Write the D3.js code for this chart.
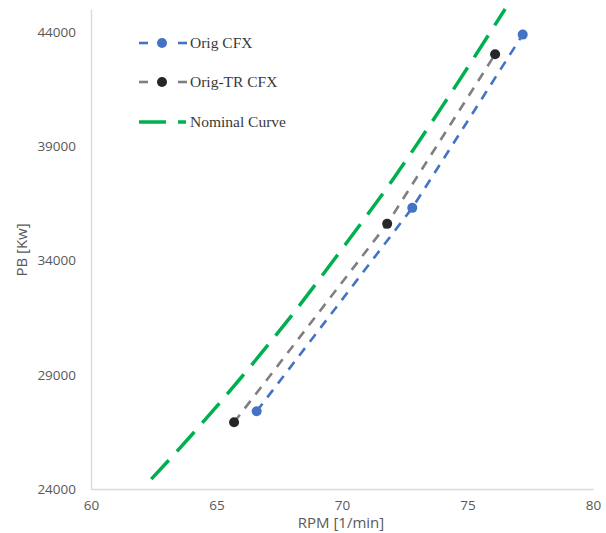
<!DOCTYPE html>
<html>
<head>
<meta charset="utf-8">
<script src="https://cdn.jsdelivr.net/npm/d3@7/dist/d3.min.js"></script>
<style>
  html, body { margin: 0; padding: 0; background: #fff; }
  svg { display: block; }
</style>
</head>
<body>
<svg id="chart" width="606" height="533"></svg>
<script>
// RPM vs brake power for the CFX runs and the nominal propeller curve
const origRpm = [66.6, 72.8, 77.2];
const origPb = [27400, 36300, 43880];

const origTrRpm = [65.7, 71.8, 76.1];
const origTrPb = [26920, 35600, 43020];

const nominalRpm = [62.4, 64, 66, 68, 70, 72, 74, 76.5];
const nominalPb = [24430, 26350, 28900, 31600, 34500, 37500, 40750, 45000];

const xTicks = [60, 65, 70, 75, 80];
const yTicks = [24000, 29000, 34000, 39000, 44000];

const seriesNames = ["Orig CFX", "Orig-TR CFX", "Nominal Curve"];

const svg = d3.select("#chart");
const x = d3.scaleLinear().domain([60, 80]).range([91, 593]);
const y = d3.scaleLinear().domain([24000, 45000]).range([489, 9]);

const axisColor = "#d9d9d9";
const textColor = "#595959";
const sans = "'Open Sans', 'Liberation Sans', sans-serif";

// axes: plain lines with labels, no tick marks
const xAxis = d3.axisBottom(x).tickValues(xTicks).tickSize(0).tickPadding(11).tickFormat(d3.format("d"));
const yAxis = d3.axisLeft(y).tickValues(yTicks).tickSize(0).tickPadding(15).tickFormat(d3.format("d"));

const gx = svg.append("g").attr("transform", `translate(0,${y(24000)})`).call(xAxis);
const gy = svg.append("g").attr("transform", `translate(${x(60)},0)`).call(yAxis);

[gx, gy].forEach(g => {
  g.select(".domain").attr("stroke", axisColor).attr("stroke-width", 1.3);
  g.selectAll("text").attr("fill", textColor).style("font-family", sans).style("font-size", "13.5px");
});
gx.selectAll("text").attr("dy", "0.71em");

svg.append("text")
  .attr("x", 341).attr("y", 528)
  .attr("text-anchor", "middle")
  .attr("fill", textColor)
  .style("font-family", sans).style("font-size", "15px")
  .text("RPM [1/min]");

svg.append("text")
  .attr("transform", "translate(27,250) rotate(-90)")
  .attr("text-anchor", "middle")
  .attr("fill", textColor)
  .style("font-family", sans).style("font-size", "15px")
  .text("PB [Kw]");

const plot = svg.append("g");

// nominal curve
const nominal = nominalRpm.map((r, i) => [r, nominalPb[i]]);
plot.append("path")
  .datum(nominal)
  .attr("fill", "none")
  .attr("stroke", "#00b050")
  .attr("stroke-width", 3.5)
  .attr("stroke-dasharray", "26 12")
  .attr("d", d3.line().x(d => x(d[0])).y(d => y(d[1])).curve(d3.curveMonotoneX));

// measured series
const series = [
  { rpm: origTrRpm, pb: origTrPb, line: "#7f7f7f", marker: "#262626" },
  { rpm: origRpm, pb: origPb, line: "#4472c4", marker: "#4472c4" }
];

series.forEach(s => {
  const pts = s.rpm.map((r, i) => [r, s.pb[i]]);
  plot.append("path")
    .datum(pts)
    .attr("fill", "none")
    .attr("stroke", s.line)
    .attr("stroke-width", 2.6)
    .attr("stroke-dasharray", "9.5 8")
    .attr("d", d3.line().x(d => x(d[0])).y(d => y(d[1])));
  plot.selectAll(null)
    .data(pts)
    .join("circle")
    .attr("cx", d => x(d[0]))
    .attr("cy", d => y(d[1]))
    .attr("r", 5)
    .attr("fill", s.marker);
});

// legend
const legend = svg.append("g");
const legendItems = [
  { name: seriesNames[0], line: "#4472c4", marker: "#4472c4", y: 43 },
  { name: seriesNames[1], line: "#7f7f7f", marker: "#262626", y: 82 },
  { name: seriesNames[2], line: "#00b050", marker: null, y: 122 }
];
legendItems.forEach(it => {
  if (it.marker) {
    [[139, 148], [178, 187]].forEach(([a, b]) => {
      legend.append("line")
        .attr("x1", a).attr("x2", b).attr("y1", it.y).attr("y2", it.y)
        .attr("stroke", it.line).attr("stroke-width", 2.6);
    });
    legend.append("circle").attr("cx", 162).attr("cy", it.y).attr("r", 5).attr("fill", it.marker);
  } else {
    [[139, 166], [178, 186]].forEach(([a, b]) => {
      legend.append("line")
        .attr("x1", a).attr("x2", b).attr("y1", it.y).attr("y2", it.y)
        .attr("stroke", it.line).attr("stroke-width", 3.5);
    });
  }
  legend.append("text")
    .attr("x", 190).attr("y", it.y + 5)
    .attr("fill", "#3a3a3a")
    .style("font-family", "'Liberation Serif', 'Times New Roman', serif")
    .style("font-size", "15.5px")
    .text(it.name);
});
</script>
</body>
</html>
